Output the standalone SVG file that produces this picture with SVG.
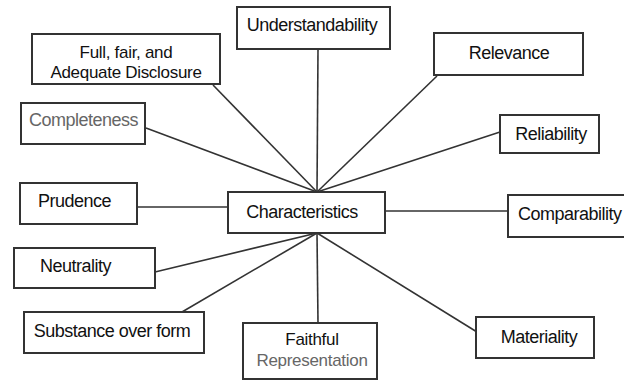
<svg xmlns="http://www.w3.org/2000/svg" width="624" height="381" viewBox="0 0 624 381">
<style>
.box{fill:#fff;stroke:#333;stroke-width:2}
.t{font-family:"Liberation Sans",Arial,sans-serif;font-size:18px;fill:#111;letter-spacing:-0.5px}
.s{font-size:17px;letter-spacing:-0.3px}
.g{fill:#666}
.c{text-anchor:middle}
#connectors line{stroke:#333;stroke-width:1.6}
</style>
<rect width="624" height="381" fill="#fff"/>
<g id="connectors">
<line x1="318" y1="49" x2="317" y2="192"/>
<line x1="213" y1="85" x2="317" y2="192"/>
<line x1="146" y1="128" x2="317" y2="192"/>
<line x1="437" y1="76" x2="317" y2="192"/>
<line x1="500" y1="132" x2="317" y2="192"/>
<line x1="137" y1="207" x2="228" y2="207"/>
<line x1="385" y1="211" x2="508" y2="211"/>
<line x1="155" y1="272" x2="317" y2="233"/>
<line x1="182" y1="312" x2="317" y2="233"/>
<line x1="317" y1="233" x2="318" y2="323"/>
<line x1="317" y1="233" x2="477" y2="332"/>
</g>
<g id="understandability"><rect class="box" x="237" y="7" width="153" height="42"/><text class="t c" x="312" y="31">Understandability</text></g>
<g id="disclosure"><rect class="box" x="32" y="34" width="188" height="50"/><text class="t s c" x="126" y="58">Full, fair, and</text><text class="t s c" x="126" y="78">Adequate Disclosure</text></g>
<g id="completeness"><rect class="box" x="21" y="103" width="124" height="41"/><text class="t g" x="29" y="126">Completeness</text></g>
<g id="relevance"><rect class="box" x="434" y="33" width="149" height="42"/><text class="t c" x="509" y="59">Relevance</text></g>
<g id="reliability"><rect class="box" x="500" y="115" width="99" height="38"/><text class="t c" x="551" y="140">Reliability</text></g>
<g id="prudence"><rect class="box" x="20" y="183" width="117" height="41"/><text class="t" x="38" y="207">Prudence</text></g>
<g id="characteristics"><rect class="box" x="228" y="192" width="157" height="41"/><text class="t c" x="302" y="218">Characteristics</text></g>
<g id="comparability"><rect class="box" x="508" y="195" width="120" height="42"/><text class="t" x="518" y="220">Comparability</text></g>
<g id="neutrality"><rect class="box" x="14" y="248" width="141" height="40"/><text class="t" x="40" y="272">Neutrality</text></g>
<g id="substance"><rect class="box" x="24" y="312" width="180" height="41"/><text class="t c" x="112" y="337">Substance over form</text></g>
<g id="faithful"><rect class="box" x="243" y="323" width="134" height="56"/><text class="t s c" x="312" y="345">Faithful</text><text class="t s c g" x="312" y="366">Representation</text></g>
<g id="materiality"><rect class="box" x="476" y="317" width="118" height="41"/><text class="t c" x="539" y="343">Materiality</text></g>
</svg>
